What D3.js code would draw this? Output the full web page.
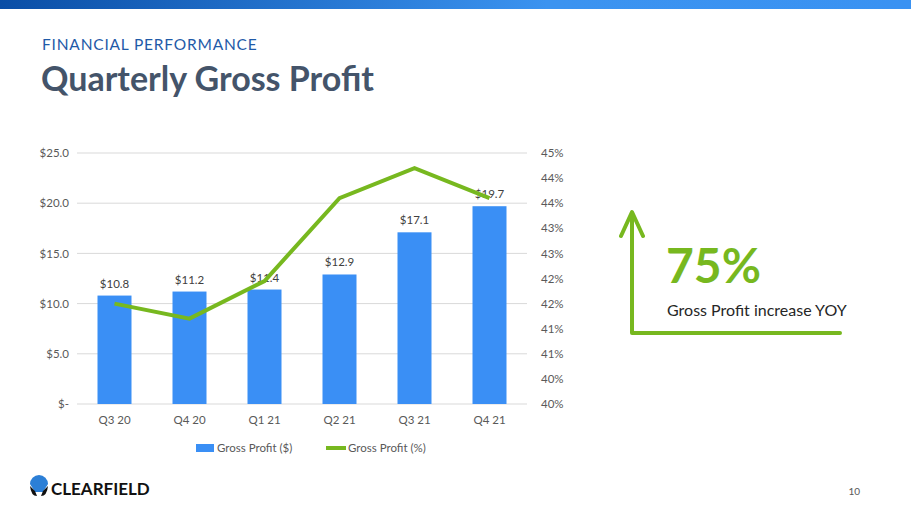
<!DOCTYPE html>
<html><head><meta charset="utf-8">
<script src="https://cdn.jsdelivr.net/npm/d3@7"></script>
<style>body{margin:0;background:#fff}svg{font-family:Calibri,Lato,sans-serif}</style>
</head><body><svg width="911" height="512"></svg>
<script>
// данные с картинки
const quarters = [
  {q: "Q3 20", gp: 10.8, pct: 42.0},
  {q: "Q4 20", gp: 11.2, pct: 41.7},
  {q: "Q1 21", gp: 11.4, pct: 42.45},
  {q: "Q2 21", gp: 12.9, pct: 44.1},
  {q: "Q3 21", gp: 17.1, pct: 44.7},
  {q: "Q4 21", gp: 19.7, pct: 44.1}
];

const svg = d3.select("svg");
const font = "Lato, sans-serif";

// верхняя полоса
const grad = svg.append("defs").append("linearGradient").attr("id", "top");
grad.append("stop").attr("offset", "0").attr("stop-color", "#0a4ea6");
grad.append("stop").attr("offset", "0.6").attr("stop-color", "#3b93f0");
grad.append("stop").attr("offset", "1").attr("stop-color", "#3a92f2");
svg.append("rect").attr("width", 911).attr("height", 9).attr("fill", "url(#top)");

svg.append("text").attr("x", 42).attr("y", 50).text("FINANCIAL PERFORMANCE")
  .style("font-family", font).style("font-size", "15.5px").style("fill", "#1f5aa8").style("letter-spacing", "0.8px");
svg.append("text").attr("x", 41).attr("y", 91).text("Quarterly Gross Profit")
  .style("font-family", font).style("font-size", "34px").style("font-weight", "bold").style("fill", "#44546a");

const area = {left: 77, right: 527, top: 153, bottom: 404};

const scX = d3.scaleBand().domain(quarters.map(d => d.q)).range([area.left, area.right]);
const scY = d3.scaleLinear().domain([0, 25]).range([area.bottom, area.top]);
const scY2 = d3.scaleLinear().domain([40, 45]).range([area.bottom, area.top]);

// сетка
svg.append("g").selectAll("line").data(d3.range(0, 25.1, 5)).enter().append("line")
  .attr("x1", area.left).attr("x2", area.right)
  .attr("y1", d => scY(d)).attr("y2", d => scY(d))
  .style("stroke", "#d9d9d9");

const axL = svg.append("g").attr("transform", `translate(${area.left},0)`)
  .call(d3.axisLeft(scY).tickValues(d3.range(0, 25.1, 5)).tickSize(0).tickPadding(8)
    .tickFormat(d => d == 0 ? "$-" : "$" + d.toFixed(1)));
const axR = svg.append("g").attr("transform", `translate(${area.right},0)`)
  .call(d3.axisRight(scY2).tickValues(d3.range(40, 45.01, 0.5)).tickSize(0).tickPadding(14)
    .tickFormat(d => Math.round(d - 0.001) + "%"));
const axB = svg.append("g").attr("transform", `translate(0,${area.bottom})`)
  .call(d3.axisBottom(scX).tickSize(0).tickPadding(12));
[axL, axR, axB].forEach(a => {
  a.select(".domain").remove();
  a.selectAll("text").style("font-family", font).style("font-size", "11.5px").style("fill", "#595959");
});

// столбцы
const bw = 34;
svg.selectAll(".bar").data(quarters).enter().append("rect")
  .attr("x", d => scX(d.q) + scX.bandwidth() / 2 - bw / 2)
  .attr("y", d => scY(d.gp))
  .attr("width", bw)
  .attr("height", d => scY(0) - scY(d.gp))
  .style("fill", "#3a8ff5");

svg.selectAll(".lbl").data(quarters).enter().append("text")
  .attr("x", d => scX(d.q) + scX.bandwidth() / 2)
  .attr("y", d => scY(d.gp) - 8)
  .attr("text-anchor", "middle")
  .text(d => "$" + d.gp.toFixed(1))
  .style("font-family", font).style("font-size", "11.5px").style("fill", "#404040");

// линия
const line = d3.line().x(d => scX(d.q) + scX.bandwidth() / 2).y(d => scY2(d.pct));
svg.append("path").datum(quarters).attr("d", line)
  .style("fill", "none").style("stroke", "#77b81f").style("stroke-width", 4);

// легенда
svg.append("rect").attr("x", 196).attr("y", 444).attr("width", 18).attr("height", 8).style("fill", "#3a8ff5");
svg.append("text").attr("x", 217).attr("y", 452).text("Gross Profit ($)")
  .style("font-family", font).style("font-size", "11.5px").style("fill", "#595959");
svg.append("line").attr("x1", 326).attr("x2", 346).attr("y1", 448).attr("y2", 448)
  .style("stroke", "#77b81f").style("stroke-width", 4);
svg.append("text").attr("x", 348).attr("y", 452).text("Gross Profit (%)")
  .style("font-family", font).style("font-size", "11.5px").style("fill", "#595959");

// стрелка и 75%
svg.append("path").attr("d", "M632,333 L632,214 M621,236 L632,212 L643,236 M632,333 L840,333")
  .style("fill", "none").style("stroke", "#77b81f").style("stroke-width", 4)
  .style("stroke-linecap", "round").style("stroke-linejoin", "round");
svg.append("text").attr("x", 666).attr("y", 283).text("75%")
  .style("font-family", font).style("font-size", "48px").style("font-weight", "bold").style("fill", "#77b81f");
svg.append("text").attr("x", 667).attr("y", 316).text("Gross Profit increase YOY")
  .style("font-family", font).style("font-size", "16px").style("fill", "#262626");

// логотип
const logo = svg.append("g").attr("transform", "translate(39,488)");
logo.append("path").attr("d", "M-9,-4 A9,9 0 0 1 9,-4 L4,4 L-4,4 Z").style("fill", "#2c7fd6");
logo.append("path").attr("d", "M-9,-2 Q-8,8 -2,8 L-4,3 Z M9,-2 Q8,8 2,8 L4,3 Z").style("fill", "#111");
svg.append("text").attr("x", 51).attr("y", 495).text("CLEARFIELD")
  .style("font-family", font).style("font-size", "17px").style("font-weight", "bold").style("fill", "#111");

svg.append("text").attr("x", 860).attr("y", 495).attr("text-anchor", "end").text("10")
  .style("font-family", font).style("font-size", "10px").style("fill", "#595959");
</script></body></html>
